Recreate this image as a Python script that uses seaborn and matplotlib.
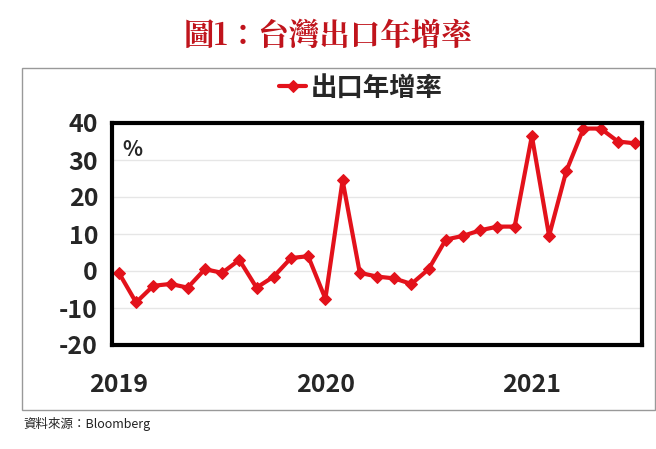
import matplotlib
matplotlib.use('Agg')
import matplotlib.pyplot as plt
import matplotlib.patches as patches
import seaborn as sns
import pandas as pd
import numpy as np

months = np.arange(31)
growth = [-0.5, -8.5, -4, -3.5, -4.5, 0.5, -0.5, 3, -4.5, -1.5, 3.5, 4,
          -7.5, 24.5, -0.5, -1.5, -2, -3.5, 0.5, 8.5, 9.5, 11, 12, 12,
          36.5, 9.5, 27, 38.5, 38.5, 35, 34.5]
year_ticks = [0, 12, 24]
year_labels = ['2019', '2020', '2021']
y_ticks = [-20, -10, 0, 10, 20, 30, 40]

df = pd.DataFrame({'month': months, 'growth': growth})

sns.set_theme(style='white')
plt.rcParams['font.family'] = ['Noto Sans CJK TC', 'DejaVu Sans']

fig = plt.figure(figsize=(6.56, 4.49), dpi=100)
fig.patches.append(patches.Rectangle((22/656, 1-410/449), 633/656, (410-68)/449,
                   transform=fig.transFigure, fill=False, edgecolor='#999999', lw=1))
fig.text(0.5, 0.92, '圖1：台灣出口年增率', ha='center', va='center', color='#c0141c',
         fontsize=22, fontweight='bold', family=['Noto Serif CJK TC', 'Noto Sans CJK TC', 'DejaVu Sans'])
fig.text(0.035, 0.055, '資料來源：Bloomberg', ha='left', va='center', fontsize=9, color='#222222')

ax = fig.add_axes([112/656, 1-345/449, 530/656, 222/449])
sns.lineplot(data=df, x='month', y='growth', ax=ax, color='#e3121b', lw=3,
             marker='D', markersize=6, markeredgecolor='#e3121b', label='出口年增率')
ax.set_xlim(-0.4, 30.4)
ax.set_ylim(-20, 40)
ax.set_yticks(y_ticks)
ax.set_yticklabels([str(v) for v in y_ticks], fontsize=18, fontweight='bold')
ax.set_xticks(year_ticks)
ax.set_xticklabels(year_labels, fontsize=18, fontweight='bold')
ax.tick_params(axis='x', pad=14)
ax.tick_params(axis='y', pad=4)
ax.yaxis.grid(True, color='#e6e6e6', lw=1)
ax.set_xlabel('')
ax.set_ylabel('')
for s in ax.spines.values():
    s.set_linewidth(3)
    s.set_color('black')
ax.text(0.02, 0.93, '%', transform=ax.transAxes, fontsize=15, fontweight='bold', va='top')
leg = ax.legend(loc='lower center', bbox_to_anchor=(0.47, 0.99), frameon=False,
                prop={'size': 19, 'weight': 'bold'}, handlelength=1.0, handletextpad=0.2)

fig.savefig('out.png', dpi=100)
